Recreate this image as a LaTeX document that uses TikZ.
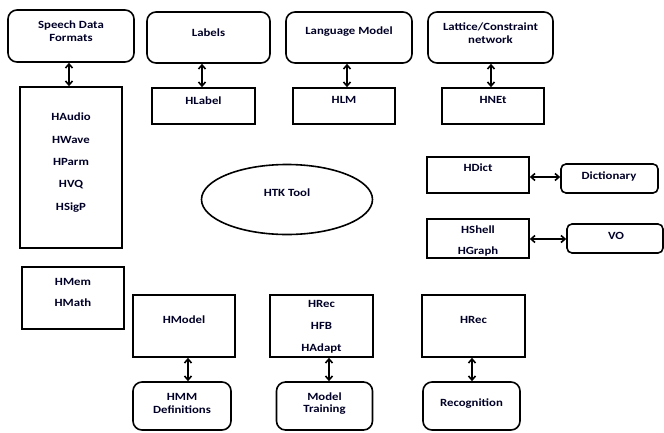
\documentclass[tikz,border=0pt]{standalone}
\usepackage{fontspec}
\setmainfont{Carlito}[FakeStretch=1.16]
\usetikzlibrary{arrows.meta,shapes.geometric}
\begin{document}
\begin{tikzpicture}[x=1pt,y=-1pt,
  sqbox/.style={draw,line width=1.6pt,inner sep=0pt},
  rbox/.style={draw,line width=1.6pt,rounded corners=9pt,inner sep=0pt},
  sbox/.style={draw,line width=1.6pt,rounded corners=5pt,inner sep=0pt},
  txt/.style={font=\fontsize{11}{12.5}\selectfont\bfseries,align=center,inner sep=0pt,text=black!85!blue},
  biarrow/.style={line width=1.6pt,{Straight Barb[length=4pt,width=7pt]}-{Straight Barb[length=4pt,width=7pt]}}
]
\useasboundingbox (0,0) rectangle (664,432);
% top row rounded boxes
\node[rbox,minimum width=126pt,minimum height=52pt] (sdf) at (71,36) {};
\node[txt] (sdft) at (71,31) {Speech Data\\Formats};
\node[rbox,minimum width=123pt,minimum height=51pt] (lab) at (208.5,37.5) {};
\node[txt] (labt) at (208.5,33) {Labels};
\node[rbox,minimum width=126pt,minimum height=51pt] (lm) at (349,37.5) {};
\node[txt] (lmt) at (349,32) {Language Model};
\node[rbox,minimum width=125pt,minimum height=51pt] (lat) at (490.5,37.5) {};
\node[txt] (latt) at (490.5,33) {Lattice/Constraint\\network};
% second row
\node[sqbox,minimum width=102pt,minimum height=161pt] (hau) at (71,167.5) {};
\node[txt,font=\fontsize{11}{22.3}\selectfont\bfseries] (haut) at (71,162.5) {HAudio\\HWave\\HParm\\HVQ\\HSigP};
\node[sqbox,minimum width=103pt,minimum height=36pt] (hlab) at (203.5,106) {};
\node[txt] (hlabt) at (203.5,101) {HLabel};
\node[sqbox,minimum width=102pt,minimum height=36pt] (hlm) at (344,106) {};
\node[txt] (hlmt) at (344,100) {HLM};
\node[sqbox,minimum width=102pt,minimum height=36pt] (hnet) at (493,106) {};
\node[txt] (hnett) at (493,100) {HNEt};
% ellipse
\node[draw,ellipse,line width=1.6pt,minimum width=171pt,minimum height=70pt,inner sep=0pt] (htk) at (287,199.5) {};
\node[txt] (htkt) at (287,193) {HTK Tool};
% right middle
\node[sqbox,minimum width=102pt,minimum height=36pt] (hdict) at (478,175) {};
\node[txt] (hdictt) at (478,168) {HDict};
\node[sbox,minimum width=97pt,minimum height=29pt] (dict) at (609.5,178.5) {};
\node[txt] (dictt) at (609,176) {Dictionary};
\node[sqbox,minimum width=102pt,minimum height=39pt] (hsh) at (478,238.5) {};
\node[txt,font=\fontsize{11}{21}\selectfont\bfseries] (hsht) at (478,240.5) {HShell\\HGraph};
\node[sbox,minimum width=96pt,minimum height=29pt] (vo) at (615,238.5) {};
\node[txt] (vot) at (616,236) {VO};
% left lower
\node[sqbox,minimum width=102pt,minimum height=62pt] (hmem) at (73,298) {};
\node[txt,font=\fontsize{11}{21}\selectfont\bfseries] (hmemt) at (73,292.5) {HMem\\HMath};
% bottom row boxes
\node[sqbox,minimum width=102pt,minimum height=62pt] (hmod) at (184,326) {};
\node[txt] (hmodt) at (184,320) {HModel};
\node[sqbox,minimum width=103pt,minimum height=62pt] (hrec) at (321.5,326) {};
\node[txt,font=\fontsize{11}{22}\selectfont\bfseries] (hrect) at (321.5,327) {HRec\\HFB\\HAdapt};
\node[sqbox,minimum width=103pt,minimum height=62pt] (hrec2) at (473.5,326) {};
\node[txt] (hrec2t) at (473.5,320) {HRec};
\node[rbox,minimum width=98pt,minimum height=48pt] (hmm) at (182,406) {};
\node[txt] (hmmt) at (182,403.5) {HMM\\Definitions};
\node[rbox,minimum width=96pt,minimum height=48pt] (mt) at (324.5,406) {};
\node[txt] (mtt) at (324.5,403.5) {Model\\Training};
\node[rbox,minimum width=97pt,minimum height=48pt] (rec) at (471.5,406) {};
\node[txt] (rect) at (471.5,404) {Recognition};
% arrows
\draw[biarrow] (sdf.south -| 69,0) -- (hau.north -| 69,0);
\draw[biarrow] (lab.south -| 202,0) -- (hlab.north -| 202,0);
\draw[biarrow] (lm.south -| 347,0) -- (hlm.north -| 347,0);
\draw[biarrow] (lat.south -| 491,0) -- (hnet.north -| 491,0);
\draw[biarrow] (hdict.east |- 0,177) -- (dict.west |- 0,177);
\draw[biarrow] (hsh.east |- 0,239) -- (vo.west |- 0,239);
\draw[biarrow] (hmod.south -| 188,0) -- (hmm.north -| 188,0);
\draw[biarrow] (hrec.south -| 329,0) -- (mt.north -| 329,0);
\draw[biarrow] (hrec2.south -| 472,0) -- (rec.north -| 472,0);
\end{tikzpicture}
\end{document}
